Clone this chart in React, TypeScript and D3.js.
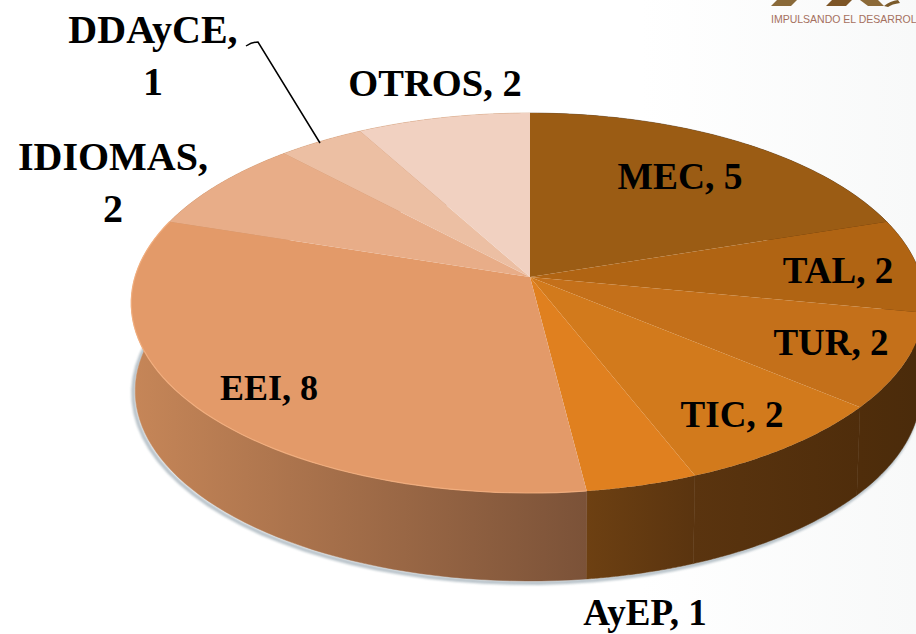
import React from "react";
import * as d3 from "d3";

const categories = ["MEC", "TAL", "TUR", "TIC", "AyEP", "EEI", "IDIOMAS", "DDAyCE", "OTROS"];
const values = [5, 2, 2, 2, 1, 8, 2, 1, 2];
const topColors = ["#9b5c14", "#b06413", "#c4701a", "#d27a1c", "#e0801f", "#e39a69", "#e8ad88", "#ecbfa3", "#f1d1c1"];
const wallFrom = ["#4a2b0b", "#4a2b0b", "#4a2b0b", "#4f2d0b", "#5a340f", "#c68658", "#c68658", "#c68658", "#c68658"];
const wallTo = ["#4a2b0b", "#4a2b0b", "#4f2d0b", "#5a340f", "#6d4012", "#7b5238", "#c68658", "#c68658", "#c68658"];

const W = 916, H = 634;
const cx = 530, cy = 277, rxRight = 391, rxLeft = 395, ry = 186.4, k = -0.137, depth = 88, wallShrink = 0.99;

const project = (t: number): [number, number] => {
  const u = Math.sin(t), v = -Math.cos(t), w = 1 + k * v;
  return [cx + ((u < 0 ? rxLeft : rxRight) * u) / w, cy + (ry * v) / w];
};
const lower = ([x, y]: [number, number]): [number, number] => [cx + (x - cx) * wallShrink, y + depth];
const samples = (a: number, b: number) => d3.range(0, 61).map((i) => a + ((b - a) * i) / 60);
const line = d3.line<[number, number]>();
const pie = d3.pie<number>().sort(null)(values);

const labelLines = [["MEC, 5"], ["TAL, 2"], ["TUR, 2"], ["TIC, 2"], ["AyEP, 1"], ["EEI, 8"], ["IDIOMAS,", "2"], ["DDAyCE,", "1"], ["OTROS, 2"]];
const labelLayout = [
  { x: 680, y: 189, size: 37.5 },
  { x: 838, y: 283, size: 37 },
  { x: 831, y: 355, size: 37 },
  { x: 732, y: 427, size: 37 },
  { x: 645, y: 625, size: 37 },
  { x: 269, y: 400, size: 36 },
  { x: 113, y: 170, size: 40 },
  { x: 153, y: 43, size: 40 },
  { x: 435, y: 96, size: 38.5 },
];

export default function App() {
  const shadow = samples(Math.PI / 2 - 0.3, Math.PI * 1.5 + 0.25).map((t) => {
    const [x, y] = lower(project(t));
    return [x - 2, y + 2] as [number, number];
  });
  return (
    <svg width={W} height={H} style={{ position: "absolute", left: 0, top: 0, display: "block" }}>
      <defs>
        <linearGradient id="bg" x1="0" x2="1" y1="0" y2="0">
          <stop offset="0.7" stopColor="#ffffff" />
          <stop offset="1" stopColor="#f8f9f9" />
        </linearGradient>
        {pie.map((d, i) => (
          <linearGradient key={i} id={`wall${i}`} gradientUnits="userSpaceOnUse"
            x1={i === 5 ? 131 : project(d.endAngle)[0]} x2={i === 5 ? 587 : project(d.startAngle)[0]} y1="0" y2="0">
            <stop offset="0" stopColor={i < 5 ? wallTo[i] : wallFrom[i]} />
            <stop offset="1" stopColor={i < 5 ? wallFrom[i] : wallTo[i]} />
          </linearGradient>
        ))}
        <filter id="blur" x="-10%" y="-10%" width="120%" height="120%"><feGaussianBlur stdDeviation="1.3" /></filter>
      </defs>
      <rect width={W} height={H} fill="url(#bg)" />

      <g>
        <polygon points="771,6 777,0 797,0 791,6" fill="#8a6a3a" />
        <polygon points="826,6 832,0 852,0 846,6" fill="#7d5526" />
        <polygon points="860,0 878,0 884,6 868,6" fill="#8c6a38" />
        <path d="M 884 6 Q 890 1 898 0 L 900 3 Q 892 4 888 7 Z" fill="#7a5a2a" />
        <text x={771} y={23} fontFamily="Liberation Sans, Arial, sans-serif" fontSize={10.5} fill="#a5705f">IMPULSANDO EL DESARROL</text>
      </g>

      <path d={line(shadow) ?? ""} fill="none" stroke="#8294a0" strokeWidth={4} opacity={0.55} filter="url(#blur)" />

      {pie.map((d, i) => {
        const pts = samples(d.startAngle, d.endAngle).map((t) => project(t));
        const wall = [...pts, ...[...pts].reverse().map(lower)];
        return <path key={i} d={(line(wall) ?? "") + "Z"} fill={`url(#wall${i})`} stroke={`url(#wall${i})`} strokeWidth={0.5} />;
      })}

      {pie.map((d, i) => {
        const pts: [number, number][] = [[cx, cy], ...samples(d.startAngle, d.endAngle).map((t) => project(t))];
        return <path key={categories[i]} d={(line(pts) ?? "") + "Z"} fill={topColors[i]} />;
      })}

      <path d={line(samples(pie[5].startAngle, pie[5].endAngle).map((t) => project(t))) ?? ""} fill="none" stroke="#f4b080" strokeWidth={1.2} opacity={0.85} />

      <path d="M 246 46 Q 252 42 258 42 L 320 143" fill="none" stroke="#000" strokeWidth={1.5} />

      {labelLines.map((lines, i) => (
        <text key={i} textAnchor="middle" fontFamily="Liberation Serif, serif" fontWeight={700} fontSize={labelLayout[i].size} fill="#000">
          {lines.map((s, j) => (
            <tspan key={j} x={labelLayout[i].x} y={labelLayout[i].y + j * 52}>{s}</tspan>
          ))}
        </text>
      ))}
    </svg>
  );
}
